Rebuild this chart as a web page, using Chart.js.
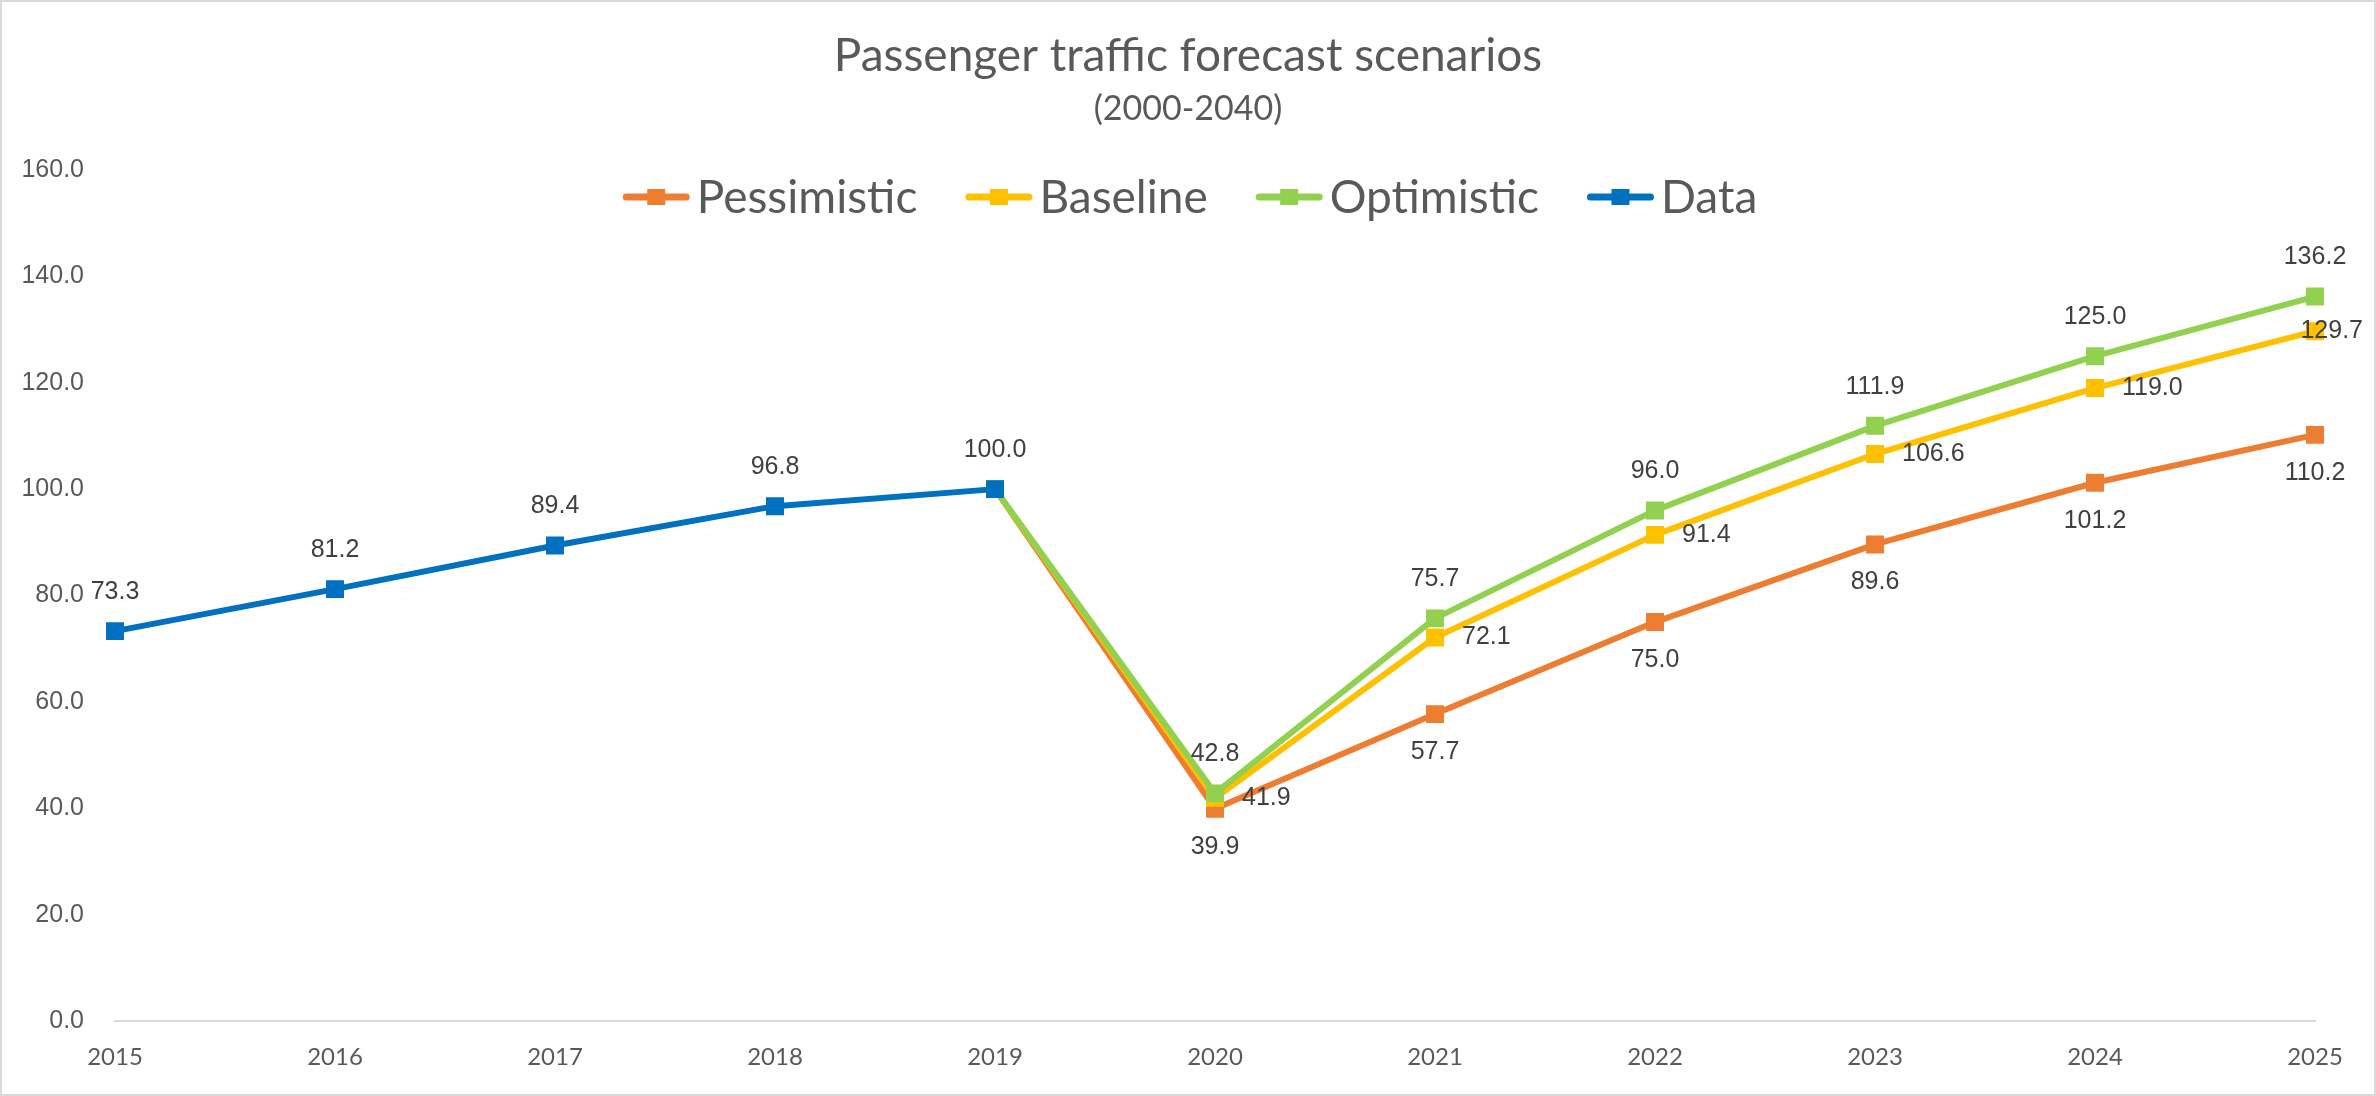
<!DOCTYPE html>
<html>
<head>
<meta charset="utf-8">
<title>Passenger traffic forecast scenarios</title>
<script src="https://cdn.jsdelivr.net/npm/chart.js@4.4.0/dist/chart.umd.min.js"></script>
<style>
  html, body { margin: 0; padding: 0; background: #fff; }
  canvas { display: block; }
</style>
</head>
<body>
<canvas id="grafico" width="2376" height="1096"></canvas>
<script>
// datos del grafico
const years = ['2015', '2016', '2017', '2018', '2019', '2020', '2021', '2022', '2023', '2024', '2025'];
const dataHist    = [73.3, 81.2, 89.4, 96.8, 100.0, null, null, null, null, null, null];
const pessimistic = [null, null, null, null, 100.0, 39.9, 57.7, 75.0, 89.6, 101.2, 110.2];
const baseline    = [null, null, null, null, 100.0, 41.9, 72.1, 91.4, 106.6, 119.0, 129.7];
const optimistic  = [null, null, null, null, 100.0, 42.8, 75.7, 96.0, 111.9, 125.0, 136.2];
const yTicks = [0, 20, 40, 60, 80, 100, 120, 140, 160];

const colores = {
  pessimistic: '#ED7D31',
  baseline: '#FFC000',
  optimistic: '#92D050',
  data: '#0070C0'
};

const gris = '#595959';
const fuenteCalibri = 'Lato, "Open Sans", sans-serif';
const fuenteArial = '"Liberation Sans", Arial, sans-serif';

// fondo blanco y borde gris
const fondo = {
  id: 'fondo',
  beforeDraw(chart) {
    const c = chart.ctx;
    c.save();
    c.fillStyle = '#fff';
    c.fillRect(0, 0, chart.width, chart.height);
    c.strokeStyle = '#d9d9d9';
    c.lineWidth = 2;
    c.strokeRect(1, 1, chart.width - 2, chart.height - 2);
    c.restore();
  }
};

// leyenda estilo excel (linea + cuadrado), dibujada encima del area del grafico
const leyenda = {
  id: 'leyenda',
  afterDraw(chart) {
    const c = chart.ctx;
    const items = chart.data.datasets.map(ds => ({ text: ds.label, color: ds.borderColor }));
    c.save();
    c.font = '46px ' + fuenteCalibri;
    c.textBaseline = 'middle';
    c.textAlign = 'left';
    const anchoIcono = 67, hueco = 7, separacion = 48;
    const anchos = items.map(it => c.measureText(it.text).width);
    const total = anchos.reduce((a, w) => a + anchoIcono + hueco + w, 0) + separacion * (items.length - 1);
    let x = (chart.width - total) / 2 + 2;
    const y = 197;
    items.forEach((it, i) => {
      c.strokeStyle = it.color;
      c.lineWidth = 7;
      c.lineCap = 'round';
      c.beginPath();
      c.moveTo(x + 3.5, y);
      c.lineTo(x + anchoIcono - 3.5, y);
      c.stroke();
      c.fillStyle = it.color;
      c.fillRect(x + anchoIcono / 2 - 9, y - 8, 18, 16);
      c.fillStyle = gris;
      c.fillText(it.text, x + anchoIcono + hueco, y + 1);
      x += anchoIcono + hueco + anchos[i] + separacion;
    });
    c.restore();
  }
};

// etiquetas de datos
const etiquetas = {
  id: 'etiquetas',
  afterDatasetsDraw(chart) {
    const c = chart.ctx;
    c.save();
    c.font = '25px ' + fuenteArial;
    c.fillStyle = '#404040';
    c.textBaseline = 'middle';
    c.textAlign = 'left';
    chart.data.datasets.forEach((ds, i) => {
      const meta = chart.getDatasetMeta(i);
      meta.data.forEach((pt, j) => {
        const v = ds.data[j];
        if (v === null || j < ds.labelFrom) return;
        const txt = v.toFixed(1);
        const w = c.measureText(txt).width;
        let x = pt.x;
        let y = pt.y;
        if (ds.labelPos === 'above') { x -= w / 2; y -= 39; }
        else if (ds.labelPos === 'below') { x -= w / 2; y += 38; }
        else { x += 27; }
        x = Math.min(x, chart.width - 13 - w);
        c.fillText(txt, x, y);
      });
    });
    c.restore();
  }
};

const serie = (label, data, color, order, labelPos, labelFrom) => ({
  label,
  data,
  borderColor: color,
  backgroundColor: color,
  borderWidth: 6,
  borderJoinStyle: 'round',
  borderCapStyle: 'round',
  pointStyle: 'rect',
  pointRadius: 12.7,
  pointBorderWidth: 0,
  pointHoverRadius: 12.7,
  tension: 0,
  spanGaps: false,
  order,
  labelPos,
  labelFrom
});

const ctx = document.getElementById('grafico').getContext('2d');

const myChart = new Chart(ctx, {
  type: 'line',
  data: {
    labels: years,
    datasets: [
      serie('Pessimistic', pessimistic, colores.pessimistic, 3, 'below', 5),
      serie('Baseline', baseline, colores.baseline, 2, 'right', 5),
      serie('Optimistic', optimistic, colores.optimistic, 1, 'above', 5),
      serie('Data', dataHist, colores.data, 0, 'above', 0)
    ]
  },
  options: {
    responsive: false,
    animation: false,
    events: [],
    layout: { padding: 0 },
    scales: {
      x: {
        offset: false,
        grid: { display: false, drawTicks: false },
        border: { display: true, color: '#d9d9d9', width: 2 },
        ticks: {
          color: gris,
          font: { family: fuenteCalibri, size: 24 },
          padding: 21.6,
          maxRotation: 0,
          autoSkip: false
        },
        afterFit: (s) => { s.height = 75; }
      },
      y: {
        min: 0,
        max: 160,
        grid: { display: false, drawTicks: false },
        border: { display: false },
        afterBuildTicks: (s) => { s.ticks = yTicks.map(v => ({ value: v })); },
        ticks: {
          color: gris,
          font: { family: fuenteArial, size: 25 },
          padding: 31,
          callback: (v) => Number(v).toFixed(1)
        },
        afterFit: (s) => { s.width = 115; }
      },
      yDerecha: {
        type: 'linear',
        axis: 'y',
        position: 'right',
        grid: { display: false, drawTicks: false },
        border: { display: false },
        ticks: { display: false },
        afterFit: (s) => { s.width = 61; }
      }
    },
    plugins: {
      title: {
        display: true,
        text: 'Passenger traffic forecast scenarios',
        color: gris,
        font: { family: fuenteCalibri, size: 46, weight: 'normal', lineHeight: 1.2 },
        padding: { top: 28.4, bottom: 0 }
      },
      subtitle: {
        display: true,
        text: '(2000-2040)',
        color: gris,
        font: { family: fuenteCalibri, size: 34, weight: 'normal', lineHeight: 1.2 },
        padding: { top: 5, bottom: 40.6 }
      },
      legend: { display: false },
      tooltip: { enabled: false }
    }
  },
  plugins: [fondo, etiquetas, leyenda]
});
</script>
</body>
</html>
